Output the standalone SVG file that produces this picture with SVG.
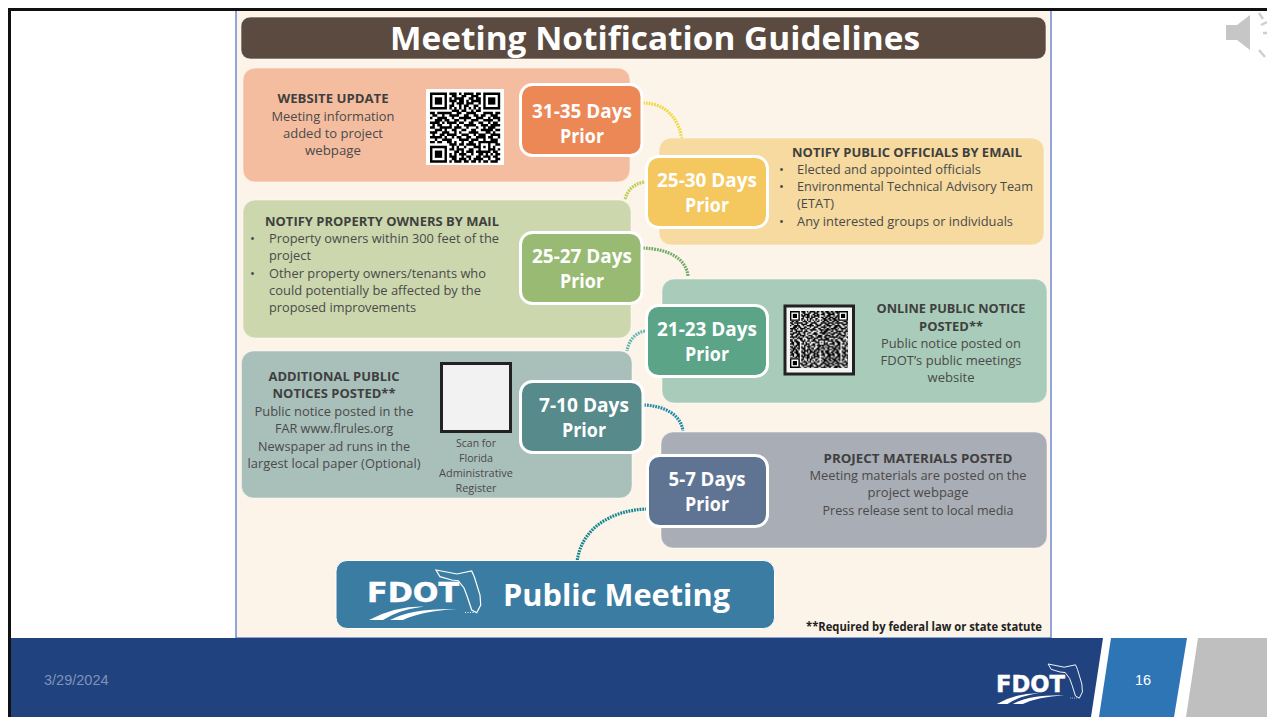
<svg xmlns="http://www.w3.org/2000/svg" xmlns:xlink="http://www.w3.org/1999/xlink" width="1267" height="717" viewBox="0 0 1267 717">
<style>
text{font-family:"Open Sans","Noto Sans","Liberation Sans",sans-serif;fill:#4a4a4a;font-size:13px}
.c{text-anchor:middle}
.h{font-weight:700;fill:#3f3f3f}
.s{font-size:10.5px}
.d{font-weight:700;fill:#fff;font-size:19.5px;text-anchor:middle}
.box{stroke:#fff;stroke-opacity:.5;stroke-width:1}
.badge{stroke:#fff;stroke-width:3}
.conn{fill:none;stroke-width:3.200;stroke-dasharray:1.800 1}
.logo{font-family:"DejaVu Sans",sans-serif;font-weight:700;fill:#fff;stroke:#fff;stroke-width:.4}
.foot{font-family:"Liberation Sans",Arial,sans-serif;font-size:14.5px}
</style>
<defs>
<path id="qrd" fill="none" stroke="#000" stroke-width="1.02" d="M8 .5h3M12 .5h1M14 .5h4M19 .5h2M9 1.5h2M13 1.5h2M17 1.5h3M8 2.5h1M10 2.5h4M16 2.5h2M19 2.5h2M8 3.5h3M12 3.5h2M15 3.5h1M17 3.5h4M9 4.5h1M11 4.5h3M15 4.5h3M20 4.5h1M8 5.5h2M12 5.5h1M14 5.5h2M18 5.5h2M8 6.5h1M10 6.5h1M12 6.5h1M14 6.5h1M16 6.5h1M18 6.5h1M20 6.5h1M9 7.5h3M13 7.5h2M17 7.5h1M19 7.5h2M0 8.5h2M3 8.5h3M6 8.5h3M11 8.5h2M15 8.5h4M22 8.5h4M27 8.5h2M1 9.5h2M5 9.5h1M8 9.5h4M14 9.5h2M18 9.5h2M21 9.5h2M25 9.5h3M0 10.5h1M3 10.5h4M9 10.5h1M12 10.5h5M19 10.5h3M24 10.5h1M26 10.5h3M2 11.5h3M6 11.5h2M10 11.5h2M14 11.5h1M17 11.5h3M22 11.5h4M28 11.5h1M0 12.5h4M5 12.5h1M7 12.5h4M12 12.5h2M16 12.5h2M20 12.5h2M24 12.5h1M26 12.5h2M1 13.5h1M3 13.5h2M8 13.5h1M11 13.5h1M14 13.5h5M21 13.5h3M25 13.5h4M0 14.5h2M4 14.5h5M10 14.5h3M15 14.5h1M19 14.5h1M22 14.5h1M24 14.5h3M2 15.5h3M6 15.5h1M9 15.5h2M13 15.5h2M17 15.5h2M21 15.5h5M27 15.5h2M0 16.5h3M5 16.5h3M10 16.5h1M12 16.5h1M16 16.5h4M23 16.5h2M26 16.5h1M1 17.5h1M4 17.5h2M7 17.5h4M13 17.5h3M18 17.5h1M20 17.5h3M25 17.5h4M0 18.5h5M6 18.5h1M9 18.5h1M11 18.5h2M15 18.5h2M19 18.5h4M24 18.5h2M28 18.5h1M2 19.5h1M5 19.5h4M12 19.5h4M17 19.5h3M22 19.5h1M25 19.5h3M0 20.5h2M3 20.5h2M7 20.5h2M10 20.5h1M13 20.5h1M16 20.5h2M20 20.5h8M8 21.5h3M12 21.5h2M15 21.5h4M20 21.5h1M24 21.5h1M27 21.5h2M9 22.5h1M11 22.5h1M14 22.5h1M18 22.5h2M20 22.5h1M22 22.5h1M24 22.5h1M26 22.5h1M8 23.5h2M11 23.5h3M16 23.5h2M20 23.5h1M24 23.5h3M28 23.5h1M10 24.5h2M13 24.5h1M15 24.5h3M19 24.5h6M26 24.5h2M8 25.5h1M10 25.5h1M12 25.5h3M17 25.5h1M20 25.5h2M23 25.5h1M25 25.5h1M27 25.5h2M8 26.5h3M13 26.5h1M15 26.5h2M19 26.5h2M22 26.5h3M26 26.5h2M9 27.5h2M12 27.5h3M16 27.5h1M18 27.5h4M24 27.5h1M27 27.5h2M8 28.5h1M10 28.5h3M14 28.5h2M17 28.5h2M20 28.5h1M22 28.5h2M25 28.5h3"/>
<path id="cor" fill="none" stroke="#000" stroke-width="1.02" d="M0 .5h2M3 .5h3M1 1.5h2M4 1.5h3M0 2.5h3M5 2.5h2M2 3.5h1M4 3.5h3M0 4.5h2M3 4.5h2M6 4.5h1M1 5.5h3M5 5.5h2M0 6.5h1M2 6.5h3M6 6.5h1M1 7.5h2M4 7.5h2"/>
<g id="fp"><rect width="7" height="7" fill="#fff"/><path d="M.5 .5h6v6h-6z" fill="none" stroke="#000"/><rect x="2" y="2" width="3" height="3"/></g>
<pattern id="qrtile" width="40.6" height="40.6" patternUnits="userSpaceOnUse" x="790" y="311"><rect width="40.6" height="40.6" fill="#fff"/><g transform="scale(1.4)"><use xlink:href="#qrd" href="#qrd"/><use xlink:href="#cor" href="#cor"/><use xlink:href="#cor" href="#cor" x="22"/><use xlink:href="#cor" href="#cor" y="21"/></g></pattern>
<g id="fla">
<path d="M436 570L457 574L471.700 571L474.300 576.700L480 595L480.700 605L476.700 612.700L471.700 610L467.300 596.700L464 588L458.300 580.700L451.700 580L440 576.700Z" fill="none" stroke="#fff" stroke-width="1.200"/>
<path d="M369 620Q395 606 424 606.500Q398 610 383 620ZM390 620Q412 608 457 609Q422 611 403 620Z" fill="#fff"/>
<path d="M465 612.500H474" fill="none" stroke="#fff" stroke-width="1" stroke-dasharray="1 1.500"/>
</g>
</defs>

<rect width="1267" height="717" fill="#fff"/>

<g id="panel">
<rect x="236" y="10" width="815" height="628" fill="#fcf3e9" stroke="#4a6fc8" stroke-width="1.200"/>
</g>

<g id="title">
<rect x="241" y="17" width="805" height="42" rx="9" fill="#5b4a3f" stroke="#fff" stroke-opacity=".6"/>
<text x="655" y="50" class="c" style="font-weight:700;fill:#fff;font-size:33px" textLength="530" lengthAdjust="spacingAndGlyphs">Meeting Notification Guidelines</text>
</g>

<g id="connectors">
<path class="conn" stroke="#f0d93e" d="M643 103C665 103 680 118 682 142"/>
<path class="conn" stroke="#b7cf4a" d="M644 182C634 184 627 190 625 200"/>
<path class="conn" stroke="#6fab68" d="M643 248C668 249 686 258 688 276"/>
<path class="conn" stroke="#5fb6b0" d="M645 331C635 333 629 340 627 351"/>
<path class="conn" stroke="#1c8aa9" d="M644 405C665 406 681 415 683 431"/>
<path class="conn" stroke="#14878f" d="M647 509C610 510 580 530 577 563"/>
</g>

<g id="website-update">
<rect class="box" x="243" y="68" width="387" height="114" rx="12" fill="#f4bda0"/>
<text x="333" y="103" class="c h" textLength="111" lengthAdjust="spacingAndGlyphs">WEBSITE UPDATE</text>
<text x="333" y="121" class="c" textLength="123" lengthAdjust="spacingAndGlyphs">Meeting information</text>
<text x="333" y="138" class="c" textLength="100" lengthAdjust="spacingAndGlyphs">added to project</text>
<text x="333" y="155" class="c" textLength="56" lengthAdjust="spacingAndGlyphs">webpage</text>
<rect x="426" y="89" width="78" height="76" fill="#fff"/>
<g transform="translate(430 92.500) scale(2.420 2.420)"><use xlink:href="#qrd" href="#qrd"/><use xlink:href="#fp" href="#fp"/><use xlink:href="#fp" href="#fp" x="22"/><use xlink:href="#fp" href="#fp" y="22"/></g>
</g>
<g id="days-31-35">
<rect class="badge" x="520.500" y="84.500" width="121.500" height="71" rx="12" fill="#ec8756"/>
<text x="582" y="118" class="d" textLength="100" lengthAdjust="spacingAndGlyphs">31-35 Days</text>
<text x="582" y="143" class="d" textLength="44" lengthAdjust="spacingAndGlyphs">Prior</text>
</g>

<g id="public-officials">
<rect class="box" x="659" y="138" width="385" height="107" rx="12" fill="#f6daa0"/>
<text x="792" y="157" class="h" textLength="230" lengthAdjust="spacingAndGlyphs">NOTIFY PUBLIC OFFICIALS BY EMAIL</text>
<text x="779" y="174">•</text><text x="797" y="174" textLength="184" lengthAdjust="spacingAndGlyphs">Elected and appointed officials</text>
<text x="779" y="191">•</text><text x="797" y="191" textLength="236" lengthAdjust="spacingAndGlyphs">Environmental Technical Advisory Team</text>
<text x="797" y="208" textLength="37" lengthAdjust="spacingAndGlyphs">(ETAT)</text>
<text x="779" y="226">•</text><text x="797" y="226" textLength="216" lengthAdjust="spacingAndGlyphs">Any interested groups or individuals</text>
</g>
<g id="days-25-30">
<rect class="badge" x="646.500" y="156.500" width="121" height="71" rx="12" fill="#f4c75f"/>
<text x="707" y="187" class="d" textLength="100" lengthAdjust="spacingAndGlyphs">25-30 Days</text>
<text x="707" y="212" class="d" textLength="44" lengthAdjust="spacingAndGlyphs">Prior</text>
</g>

<g id="property-owners">
<rect class="box" x="243" y="200" width="388" height="138" rx="12" fill="#ccd7ae"/>
<text x="265" y="226" class="h" textLength="234" lengthAdjust="spacingAndGlyphs">NOTIFY PROPERTY OWNERS BY MAIL</text>
<text x="250" y="243">•</text><text x="269" y="243" textLength="230" lengthAdjust="spacingAndGlyphs">Property owners within 300 feet of the</text>
<text x="269" y="260" textLength="42" lengthAdjust="spacingAndGlyphs">project</text>
<text x="250" y="278">•</text><text x="269" y="278" textLength="217" lengthAdjust="spacingAndGlyphs">Other property owners/tenants who</text>
<text x="269" y="295" textLength="212" lengthAdjust="spacingAndGlyphs">could potentially be affected by the</text>
<text x="269" y="312" textLength="147" lengthAdjust="spacingAndGlyphs">proposed improvements</text>
</g>
<g id="days-25-27">
<rect class="badge" x="520.500" y="232.500" width="121.500" height="71" rx="12" fill="#98ba72"/>
<text x="582" y="263" class="d" textLength="100" lengthAdjust="spacingAndGlyphs">25-27 Days</text>
<text x="582" y="288" class="d" textLength="44" lengthAdjust="spacingAndGlyphs">Prior</text>
</g>

<g id="online-notice">
<rect class="box" x="662" y="279" width="385" height="124" rx="12" fill="#a9cbb9"/>
<rect x="785" y="306" width="68.500" height="68" fill="#f4f4f4" stroke="#222" stroke-width="3"/>
<rect x="790" y="311" width="58" height="57" fill="url(#qrtile)"/>
<g transform="translate(790 311) scale(1.400)"><use xlink:href="#fp" href="#fp"/><use xlink:href="#fp" href="#fp" x="34.400"/><use xlink:href="#fp" href="#fp" y="33.700"/></g>
<text x="951" y="313" class="c h" textLength="149" lengthAdjust="spacingAndGlyphs">ONLINE PUBLIC NOTICE</text>
<text x="951" y="331" class="c h" textLength="64" lengthAdjust="spacingAndGlyphs">POSTED**</text>
<text x="951" y="348" class="c" textLength="140" lengthAdjust="spacingAndGlyphs">Public notice posted on</text>
<text x="951" y="365" class="c" textLength="141" lengthAdjust="spacingAndGlyphs">FDOT’s public meetings</text>
<text x="951" y="382" class="c" textLength="47" lengthAdjust="spacingAndGlyphs">website</text>
</g>
<g id="days-21-23">
<rect class="badge" x="646.500" y="305.500" width="121" height="71" rx="12" fill="#5ba488"/>
<text x="707" y="336" class="d" textLength="100" lengthAdjust="spacingAndGlyphs">21-23 Days</text>
<text x="707" y="361" class="d" textLength="44" lengthAdjust="spacingAndGlyphs">Prior</text>
</g>

<g id="additional-notices">
<rect class="box" x="241.500" y="351" width="390.500" height="147" rx="12" fill="#a9bfba"/>
<text x="334" y="381" class="c h" textLength="131" lengthAdjust="spacingAndGlyphs">ADDITIONAL PUBLIC</text>
<text x="334" y="398" class="c h" textLength="123" lengthAdjust="spacingAndGlyphs">NOTICES POSTED**</text>
<text x="334" y="416" class="c" textLength="159" lengthAdjust="spacingAndGlyphs">Public notice posted in the</text>
<text x="334" y="433" class="c" textLength="118" lengthAdjust="spacingAndGlyphs">FAR www.flrules.org</text>
<text x="334" y="451" class="c" textLength="152" lengthAdjust="spacingAndGlyphs">Newspaper ad runs in the</text>
<text x="334" y="468" class="c" textLength="173" lengthAdjust="spacingAndGlyphs">largest local paper (Optional)</text>
<rect x="441.500" y="363.500" width="69" height="68" fill="#f2f2f2" stroke="#222" stroke-width="3"/>
<text x="476" y="447" class="c s" textLength="40" lengthAdjust="spacingAndGlyphs">Scan for</text>
<text x="476" y="462" class="c s" textLength="34" lengthAdjust="spacingAndGlyphs">Florida</text>
<text x="476" y="477" class="c s" textLength="74" lengthAdjust="spacingAndGlyphs">Administrative</text>
<text x="476" y="492" class="c s" textLength="41" lengthAdjust="spacingAndGlyphs">Register</text>
</g>
<g id="days-7-10">
<rect class="badge" x="520.500" y="381.500" width="122.500" height="71" rx="12" fill="#568a8b"/>
<text x="584" y="412" class="d" textLength="90" lengthAdjust="spacingAndGlyphs">7-10 Days</text>
<text x="584" y="437" class="d" textLength="44" lengthAdjust="spacingAndGlyphs">Prior</text>
</g>

<g id="project-materials">
<rect class="box" x="661" y="432" width="386" height="116" rx="12" fill="#a9adb5"/>
<text x="918" y="463" class="c h" textLength="189" lengthAdjust="spacingAndGlyphs">PROJECT MATERIALS POSTED</text>
<text x="918" y="480" class="c" textLength="217" lengthAdjust="spacingAndGlyphs">Meeting materials are posted on the</text>
<text x="918" y="497" class="c" textLength="101" lengthAdjust="spacingAndGlyphs">project webpage</text>
<text x="918" y="515" class="c" textLength="191" lengthAdjust="spacingAndGlyphs">Press release sent to local media</text>
</g>
<g id="days-5-7">
<rect class="badge" x="647.500" y="455.500" width="120" height="71" rx="12" fill="#5f7492"/>
<text x="707" y="486" class="d" textLength="77" lengthAdjust="spacingAndGlyphs">5-7 Days</text>
<text x="707" y="511" class="d" textLength="44" lengthAdjust="spacingAndGlyphs">Prior</text>
</g>

<g id="public-meeting">
<rect x="336" y="560.500" width="438.500" height="68" rx="11" fill="#3a7ca2" stroke="#fff"/>
<text x="367" y="602" class="logo" style="font-size:26px" textLength="92" lengthAdjust="spacingAndGlyphs">FDOT</text>
<use xlink:href="#fla" href="#fla"/>
<text x="503" y="606" style="font-weight:700;fill:#fff;font-size:31px" textLength="227" lengthAdjust="spacingAndGlyphs">Public Meeting</text>
</g>

<g id="footnote">
<text x="806" y="631" style="font-weight:700;fill:#222;font-size:11.500px" textLength="236" lengthAdjust="spacingAndGlyphs">**Required by federal law or state statute</text>
</g>

<g id="footer">
<path d="M10 638H1103L1091 717H10Z" fill="#20427f"/>
<path d="M1111 638H1187L1174 717H1099Z" fill="#2e75b6"/>
<path d="M1198 638H1267V717H1186Z" fill="#bfbfbf"/>
<text x="44" y="685" class="foot" style="fill:#7f93b8">3/29/2024</text>
<text x="1143" y="685" class="c foot" style="fill:#fff">16</text>
<text x="996" y="692" class="logo" style="font-size:23px" textLength="69" lengthAdjust="spacingAndGlyphs">FDOT</text>
<use xlink:href="#fla" href="#fla" transform="translate(713.700 208) scale(.767 .8)"/>
</g>

<path id="frame" d="M9.500 717V9.500H1267" fill="none" stroke="#111" stroke-width="3"/>

<g id="speaker">
<path d="M1226 25H1237L1250 15V50L1237 40H1226Z" fill="#c6c6c6"/>
<path d="M1259 13L1263 19M1261 25L1267 22M1263 33H1267M1259 50L1265 57" fill="none" stroke="#cfcfcf" stroke-width="2.500"/>
</g>
</svg>
